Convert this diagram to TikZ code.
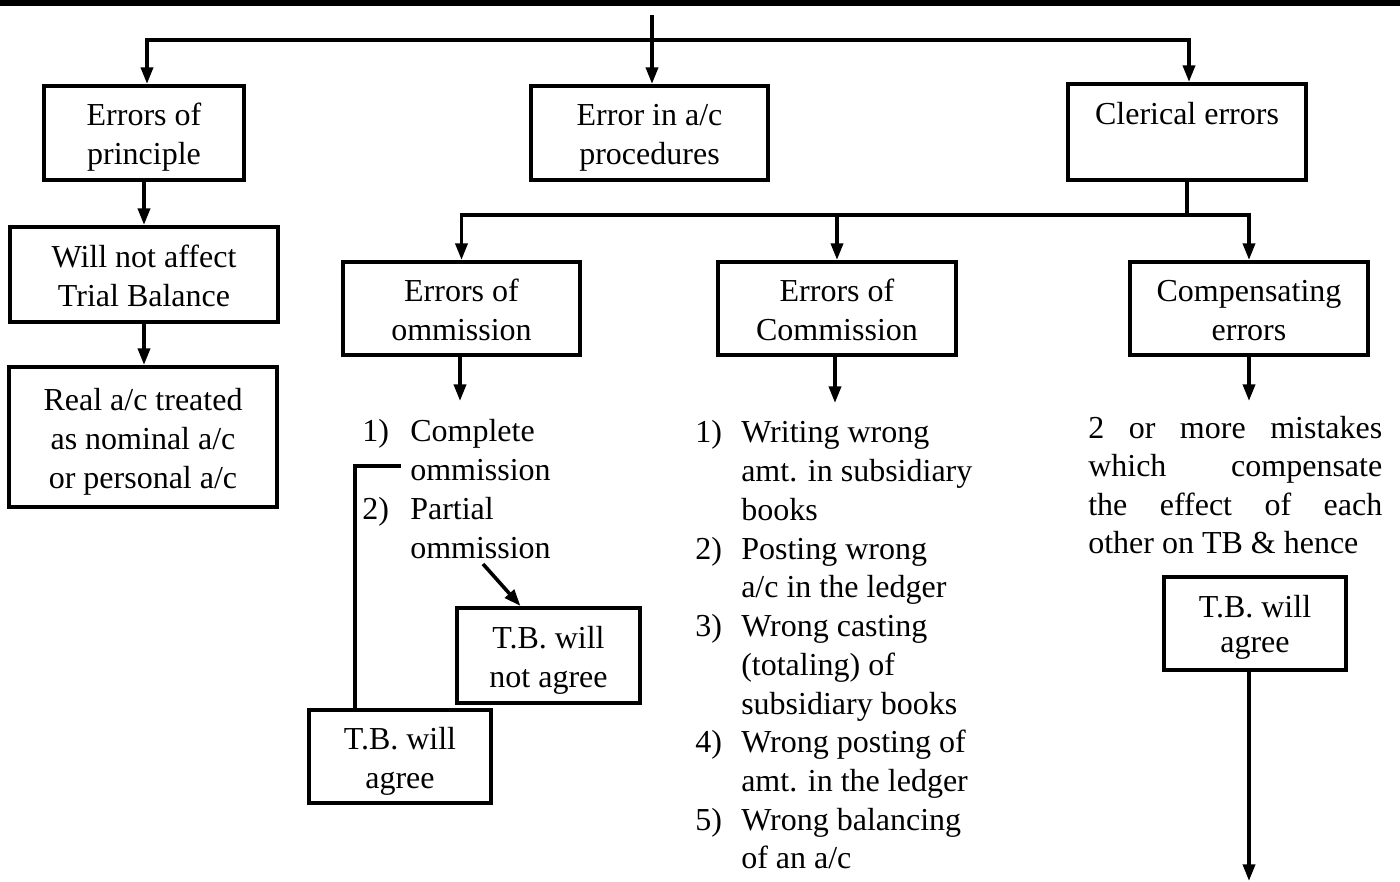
\documentclass[tikz,border=0pt]{standalone}
\usepackage{fontspec}
\setmainfont{Liberation Serif}
\usetikzlibrary{arrows.meta,calc}
\def\u{0.75pt}
\newcommand\bxt[2][1]{\raisebox{-3.5pt}[\height][\depth]{\renewcommand\arraystretch{#1}\begin{tabular}{@{}c@{}}#2\end{tabular}}}
\begin{document}
\begin{tikzpicture}[x=0.75pt,y=-0.75pt,
  every node/.style={font=\fontsize{24pt}{29.25pt}\selectfont},
  box/.style={draw, line width=3pt, inner sep=0pt, align=center},
  ln/.style={line width=2.7pt},
  arr/.style={ln, -{Triangle[length=12.5pt,width=9pt]}},
  txt/.style={anchor=base west, inner sep=0pt}]
\useasboundingbox (0,0) rectangle (1400,882);
\fill[black] (0,0) rectangle (1400,6);

% top level boxes
\node[box, minimum width=200*\u, minimum height=94*\u] (p1) at (144,133) {\bxt{Errors of\\principle}};
\node[box, minimum width=237*\u, minimum height=94*\u] (p2) at (649.5,133) {\bxt{Error in a/c\\procedures}};
\node[box, minimum width=238*\u, minimum height=96*\u] (p3) at (1187,132) {\bxt{Clerical errors\\\mbox{}}};

\node[box, minimum width=268*\u, minimum height=95*\u] (will) at (144,274.5) {\bxt{Will not affect\\Trial Balance}};
\node[box, minimum width=268*\u, minimum height=140*\u] (real) at (143,437) {\raisebox{1.5pt}{\bxt{Real a/c treated\\as nominal a/c\\or personal a/c}}};

\node[box, minimum width=237*\u, minimum height=93*\u] (om) at (461.5,308.5) {\bxt{Errors of\\ommission}};
\node[box, minimum width=238*\u, minimum height=93*\u] (com) at (837,308.5) {\bxt{Errors of\\Commission}};
\node[box, minimum width=238*\u, minimum height=93*\u] (cmp) at (1249,308.5) {\bxt{Compensating\\errors}};

\node[box, minimum width=183*\u, minimum height=95*\u] (tbn) at (548.5,655.5) {\bxt{T.B. will\\not agree}};
\node[box, minimum width=182*\u, minimum height=93*\u] (tba) at (400,756.5) {\bxt{T.B. will\\agree}};
\node[box, minimum width=182*\u, minimum height=93*\u] (tbc) at (1255,623.5) {\raisebox{1.5pt}{\bxt[0.9]{T.B. will\\agree}}};

% ommission list
\node[txt] (on1) at (362,441) {1)};
\node[txt] (o1a) at (410,441) {Complete};
\node[txt] (o1b) at (410,480) {ommission};
\node[txt] (on2) at (362,519) {2)};
\node[txt] (o2a) at (410,519) {Partial};
\node[txt] (o2b) at (410,558) {ommission};

% commission list
\node[txt] (cn1) at (695,442) {1)};
\node[txt] (c1a) at (741,442) {Writing wrong};
\node[txt] (c1b) at (741,481) {amt. in subsidiary};
\node[txt] (c1c) at (741,520) {books};
\node[txt] (cn2) at (695,559) {2)};
\node[txt] (c2a) at (741,559) {Posting wrong};
\node[txt] (c2b) at (741,597) {a/c in the ledger};
\node[txt] (cn3) at (695,636) {3)};
\node[txt] (c3a) at (741,636) {Wrong casting};
\node[txt] (c3b) at (741,675) {(totaling) of};
\node[txt] (c3c) at (741,714) {subsidiary books};
\node[txt] (cn4) at (695,752) {4)};
\node[txt] (c4a) at (741,752) {Wrong posting of};
\node[txt] (c4b) at (741,791) {amt. in the ledger};
\node[txt] (cn5) at (695,830) {5)};
\node[txt] (c5a) at (741,830) {Wrong balancing};
\node[txt] (c5b) at (741,868) {of an a/c};

% compensating text
\node[txt, text width=294*\u, align=justify] (ctext) at (1088,438)
  {\hbadness=10000\baselineskip=28.875pt 2 or more mistakes\linebreak which compensate\linebreak the effect of each\linebreak other on TB \& hence\par};

% connectors
\coordinate (top) at (652,15);
\coordinate (j1) at (652,40);
\draw[arr] (top) -- (top |- p2.north);
\draw[arr] (j1) -| ([xshift=3*\u]p1.north);
\draw[arr] (j1) -| ([xshift=2*\u]p3.north);
\draw[arr] (p1) -- (p1.south |- will.north);
\draw[arr] (will) -- (will.south |- real.north);

\draw[ln] (p3.south) -- ++(0,33) coordinate (j2);
\draw[arr] (j2) -| (om.north);
\draw[arr] (j2) -| (com.north);
\draw[arr] (j2) -| (cmp.north);

\coordinate (omend) at (460,401);
\coordinate (comend) at (835,403);
\coordinate (cmpend) at (1249,401);
\draw[arr] (om.south -| omend) -- (omend);
\draw[arr] (com.south -| comend) -- (comend);
\draw[arr] (cmp.south -| cmpend) -- (cmpend);

\coordinate (cA) at (401,466);
\draw[ln] (cA) -| ([xshift=-45*\u]tba.north);
\coordinate (pA) at (483,564);
\draw[arr] (pA) -- ([xshift=-28*\u]tbn.north);

\coordinate (bot) at (1249,881);
\draw[arr] (bot |- tbc.south) -- (bot);
\end{tikzpicture}
\end{document}
